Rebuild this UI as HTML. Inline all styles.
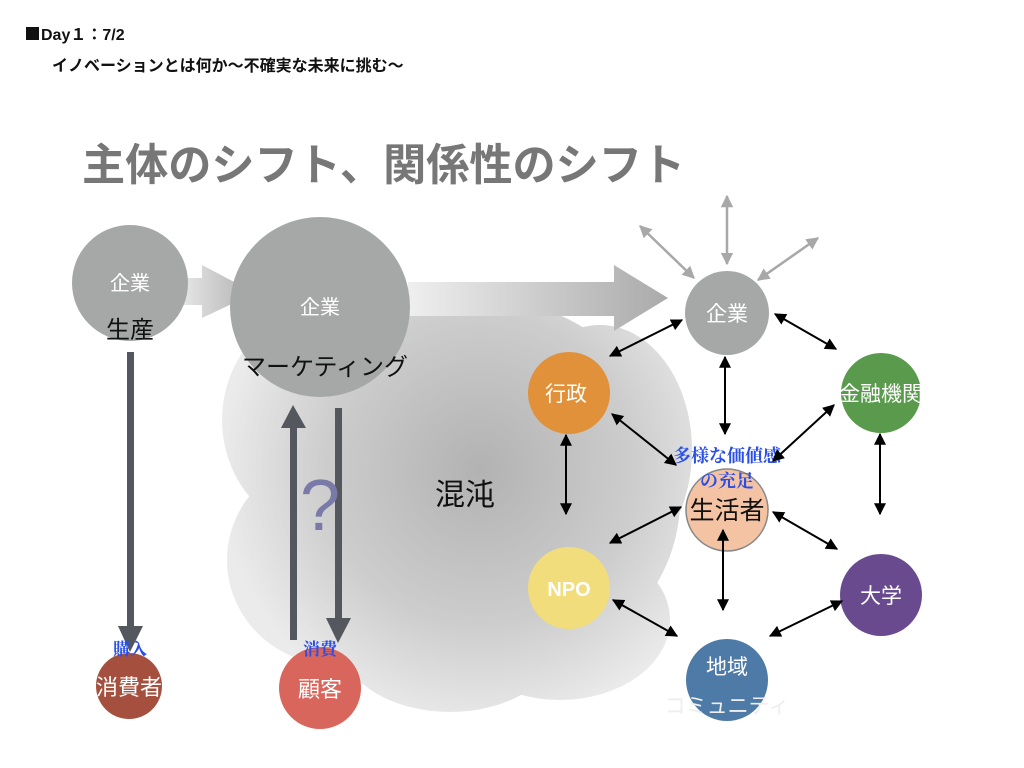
<!DOCTYPE html>
<html><head><meta charset="utf-8"><style>
html,body{margin:0;padding:0;background:#fff;}
svg{display:block;font-family:"Liberation Sans","Noto Sans CJK JP",sans-serif;}
</style></head><body>
<svg width="1024" height="768" viewBox="0 0 1024 768" xmlns="http://www.w3.org/2000/svg">
<defs>
<radialGradient id="cloud" gradientUnits="userSpaceOnUse" cx="480" cy="470" r="260">
<stop offset="0" stop-color="#b2b2b2"/><stop offset="0.6" stop-color="#cdcdcd"/><stop offset="1" stop-color="#ebebeb"/>
</radialGradient>
<linearGradient id="ar1" x1="0" x2="1" y1="0" y2="0">
<stop offset="0" stop-color="#f0f0f0"/><stop offset="1" stop-color="#b0b0b0"/>
</linearGradient>
<linearGradient id="ar2" x1="0" x2="1" y1="0" y2="0">
<stop offset="0" stop-color="#efefef"/><stop offset="1" stop-color="#aaaaaa"/>
</linearGradient>
<marker id="bh" viewBox="0 0 10 10" refX="9" refY="5" markerWidth="6" markerHeight="6" orient="auto-start-reverse"><path d="M0,0L10,5L0,10z" fill="#000"/></marker>
<marker id="gh" viewBox="0 0 10 10" refX="9" refY="5" markerWidth="5" markerHeight="5" orient="auto-start-reverse"><path d="M0,0L10,5L0,10z" fill="#a8a8a8"/></marker>
</defs>
<!-- header -->
<rect x="26" y="27" width="13" height="13" fill="#111"/>
<text x="41" y="40" font-size="16" font-weight="bold" fill="#111">Day１：7/2</text>
<text x="52" y="71" font-size="16" font-weight="bold" fill="#111">イノベーションとは何か〜不確実な未来に挑む〜</text>
<text x="82" y="180" font-size="44" font-weight="bold" fill="#777" textLength="603" lengthAdjust="spacingAndGlyphs">主体のシフト、関係性のシフト</text>
<!-- cloud -->
<g fill="url(#cloud)">
<ellipse cx="330" cy="420" rx="108" ry="115"/>
<ellipse cx="335" cy="560" rx="108" ry="105"/>
<ellipse cx="480" cy="400" rx="150" ry="100"/>
<ellipse cx="500" cy="500" rx="180" ry="170"/>
<ellipse cx="600" cy="450" rx="92" ry="125"/>
<ellipse cx="560" cy="620" rx="110" ry="80"/>
<ellipse cx="450" cy="640" rx="110" ry="72"/>
<ellipse cx="460" cy="350" rx="55" ry="45"/>
</g>
<!-- big arrows -->
<path d="M408,282 L614,282 L614,265 L668,298 L614,331 L614,316 L408,316z" fill="url(#ar2)"/>
<path d="M168,278 L202,278 L202,265 L255,293 L202,318 L202,305 L168,305z" fill="url(#ar1)"/>
<!-- left circles -->
<circle cx="130" cy="283" r="58" fill="#a6a7a7"/>
<circle cx="320" cy="307" r="90" fill="#a6a7a7"/>
<text x="130" y="290" font-size="20" fill="#fff" text-anchor="middle">企業</text>
<text x="130" y="338" font-size="24" fill="#111" text-anchor="middle">生産</text>
<text x="320" y="314" font-size="20" fill="#fff" text-anchor="middle">企業</text>
<text x="325" y="375" font-size="24" fill="#111" text-anchor="middle">マーケティング</text>
<!-- vertical arrows -->
<g fill="#55575e">
<rect x="127" y="352" width="7" height="276"/><path d="M118,626 L143,626 L130,652z"/>
<rect x="290" y="425" width="7" height="215"/><path d="M281,428 L306,428 L293,405z"/>
<rect x="335" y="408" width="7" height="212"/><path d="M326,618 L351,618 L338,643z"/>
</g>
<text x="320" y="530" font-size="72" fill="#7a7aa8" text-anchor="middle">?</text>
<text x="465" y="505" font-size="30" fill="#111" text-anchor="middle">混沌</text>
<circle cx="129" cy="686" r="33" fill="#a5503f"/>
<circle cx="320" cy="688" r="41" fill="#d9665c"/>
<text x="129" y="695" font-size="22" fill="#fff" text-anchor="middle">消費者</text>
<text x="320" y="697" font-size="22" fill="#fff" text-anchor="middle">顧客</text>
<text x="130" y="655" font-size="17" font-weight="bold" fill="#2a4ee8" text-anchor="middle" font-family="Liberation Serif,Noto Serif CJK SC,serif">購入</text>
<text x="320" y="655" font-size="17" font-weight="bold" fill="#2a4ee8" text-anchor="middle" font-family="Liberation Serif,Noto Serif CJK SC,serif">消費</text>
<!-- grey arrows top -->
<g stroke="#a8a8a8" stroke-width="2.5" marker-start="url(#gh)" marker-end="url(#gh)">
<line x1="727" y1="196" x2="727" y2="264"/>
<line x1="640" y1="226" x2="694" y2="278"/>
<line x1="818" y1="238" x2="758" y2="280"/>
</g>
<!-- right circles -->
<circle cx="727" cy="313" r="42" fill="#a6a7a7"/>
<circle cx="569" cy="393" r="41" fill="#e0913a"/>
<circle cx="881" cy="393" r="40" fill="#5a9a4c"/>
<circle cx="727" cy="510" r="41" fill="#f4c3a3" stroke="#888" stroke-width="1.5"/>
<circle cx="569" cy="588" r="41" fill="#f2dd7c"/>
<circle cx="881" cy="595" r="41" fill="#6a4a8e"/>
<circle cx="727" cy="680" r="41" fill="#4e7aa8"/>
<g font-size="21" fill="#fff" text-anchor="middle">
<text x="727" y="321">企業</text>
<text x="566" y="401">行政</text>
<text x="881" y="401">金融機関</text>
<text x="569" y="596" font-weight="bold" font-size="20">NPO</text>
<text x="881" y="603">大学</text>
<text x="727" y="674">地域</text>
<text x="727" y="713" fill="#eee">コミュニティ</text>
</g>
<text x="727" y="519" font-size="25" fill="#111" text-anchor="middle">生活者</text>
<g font-size="18" font-weight="bold" fill="#2a4ee8" text-anchor="middle" font-family="Liberation Serif,Noto Serif CJK SC,serif">
<text x="727" y="462">多様な価値感</text>
<text x="727" y="487">の充足</text>
</g>
<!-- black arrows -->
<g stroke="#000" stroke-width="2" marker-start="url(#bh)" marker-end="url(#bh)">
<line x1="682" y1="320" x2="610" y2="356"/>
<line x1="775" y1="314" x2="836" y2="349"/>
<line x1="725" y1="357" x2="725" y2="434"/>
<line x1="612" y1="414" x2="676" y2="465"/>
<line x1="834" y1="405" x2="773" y2="461"/>
<line x1="566" y1="435" x2="566" y2="514"/>
<line x1="880" y1="434" x2="880" y2="514"/>
<line x1="681" y1="507" x2="610" y2="543"/>
<line x1="773" y1="512" x2="837" y2="549"/>
<line x1="723" y1="530" x2="723" y2="610"/>
<line x1="613" y1="600" x2="677" y2="636"/>
<line x1="842" y1="601" x2="770" y2="636"/>
</g>
</svg>
</body></html>
